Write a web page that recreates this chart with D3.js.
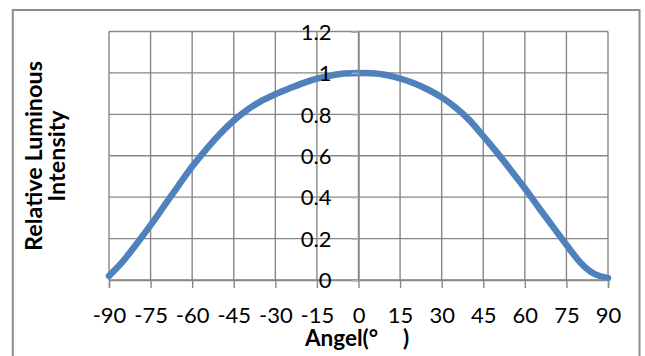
<!DOCTYPE html>
<html>
<head>
<meta charset="utf-8">
<script src="https://d3js.org/d3.v7.min.js"></script>
<style>
	body { margin: 0; background: #fff; }
	svg { display: block; font-family: Lato, "Open Sans", sans-serif; }
</style>
</head>
<body>
<svg id="chart"></svg>
<script>
// angle (deg) and relative luminous intensity
var angles = [-90, -85, -80, -75, -70, -65, -60, -55, -50, -45, -40, -35, -30, -25, -20, -15, -10, -5,
	0, 5, 10, 15, 20, 25, 30, 35, 40, 45, 50, 55, 60, 65, 70, 75, 80, 85, 90];
var intensity = [0.02, 0.09, 0.175, 0.265, 0.36, 0.455, 0.548, 0.63, 0.705, 0.77, 0.823, 0.865, 0.897, 0.925, 0.951, 0.972, 0.987, 0.997,
	1.0, 0.998, 0.99, 0.973, 0.95, 0.92, 0.882, 0.833, 0.772, 0.695, 0.615, 0.53, 0.443, 0.35, 0.26, 0.17, 0.085, 0.03, 0.01];
var xTicks = [-90, -75, -60, -45, -30, -15, 0, 15, 30, 45, 60, 75, 90];
var yTicks = [0, 0.2, 0.4, 0.6, 0.8, 1, 1.2];
var xTitle = "Angel(°";
var yTitle = ["Relative Luminous", "Intensity"];

document.addEventListener("DOMContentLoaded", function() {
	var width = 645;
	var height = 356;
	var svg = d3.select("#chart").attr("width", width).attr("height", height);
	var gridColor = "#878787";

	var x = d3.scaleLinear().domain([-90, 90]).range([109, 608]);
	var y = d3.scaleLinear().domain([0, 1.2]).range([280, 31.5]);

	// chart area border
	svg.append("rect")
		.attr("x", 12.8).attr("y", 10)
		.attr("width", 626.7).attr("height", 400)
		.attr("fill", "#fff")
		.attr("stroke", "#8c8c8c")
		.attr("stroke-width", 2);

	// gridlines
	var grid = svg.append("g").attr("class", "grid");
	grid.selectAll("line.h").data(yTicks).enter().append("line")
		.attr("class", "h")
		.attr("x1", x(-90)).attr("x2", x(90))
		.attr("y1", function(d) { return y(d); })
		.attr("y2", function(d) { return y(d); })
		.attr("stroke", gridColor).attr("stroke-width", 1.4);
	grid.selectAll("line.v").data(xTicks).enter().append("line")
		.attr("class", "v")
		.attr("y1", y(0)).attr("y2", y(1.2))
		.attr("x1", function(d) { return x(d); })
		.attr("x2", function(d) { return x(d); })
		.attr("stroke", gridColor).attr("stroke-width", 1.4);

	// curve
	var line = d3.line()
		.x(function(d, i) { return x(angles[i]); })
		.y(function(d) { return y(d); })
		.curve(d3.curveMonotoneX);
	svg.append("path")
		.datum(intensity)
		.attr("d", line)
		.attr("fill", "none")
		.attr("stroke", "#4F81BD")
		.attr("stroke-width", 6.5)
		.attr("stroke-linecap", "round")
		.attr("stroke-linejoin", "round");

	// x axis
	var xAxis = svg.append("g")
		.attr("transform", "translate(0," + y(0) + ")")
		.call(d3.axisBottom(x).tickValues(xTicks).tickSize(8).tickFormat(function(d) { return String(d); }));
	xAxis.select(".domain").attr("stroke", gridColor).attr("stroke-width", 1.4);
	xAxis.selectAll(".tick line").attr("stroke", gridColor).attr("stroke-width", 1.4);
	xAxis.selectAll(".tick text")
		.attr("y", 35).attr("dy", "0.35em")
		.attr("fill", "#000")
		.style("font-family", "Lato, sans-serif")
		.style("font-size", "22px");

	// y axis, crossing at 0 degrees
	var yAxis = svg.append("g")
		.attr("transform", "translate(" + x(0) + ",0)")
		.call(d3.axisLeft(y).tickValues(yTicks).tickSize(7).tickPadding(20).tickFormat(function(d) { return String(d); }));
	yAxis.select(".domain").attr("stroke", gridColor).attr("stroke-width", 1.4);
	yAxis.selectAll(".tick line").attr("stroke", "#b0b0b0").attr("stroke-width", 1.4);
	yAxis.selectAll(".tick text")
		.attr("dy", "0.35em")
		.attr("fill", "#000")
		.style("font-family", "Lato, sans-serif")
		.style("font-size", "22px");

	// axis titles
	var xt = svg.append("text")
		.attr("x", 305).attr("y", 346)
		.style("font-weight", "bold")
		.style("font-size", "22.5px")
		.text(xTitle);
	xt.append("tspan").attr("x", 403).text(")");

	svg.append("g")
		.attr("transform", "translate(0,156) rotate(-90)")
		.selectAll("text").data(yTitle).enter().append("text")
		.attr("x", 0)
		.attr("y", function(d, i) { return 34 + i * 23; })
		.attr("dy", "0.35em")
		.attr("text-anchor", "middle")
		.style("font-weight", "bold")
		.style("font-size", "23.4px")
		.text(function(d) { return d; });
});
</script>
</body>
</html>
